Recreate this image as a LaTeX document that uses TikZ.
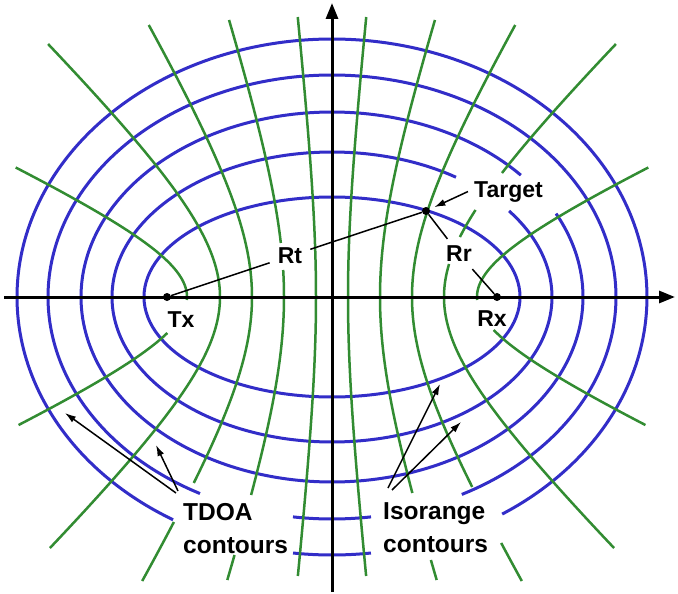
\documentclass[tikz,border=0pt]{standalone}
\usepackage{fontspec}
\setmainfont{Liberation Sans}
\usetikzlibrary{arrows.meta}
\definecolor{ellblue}{RGB}{50,45,200}
\definecolor{hypgreen}{RGB}{50,140,50}
\newcommand\ellarc[4]{\draw[ell] plot[domain=#3:#4,samples=150,smooth] ({332+#1*cos(\x)},{297-#2*sin(\x)});}
\newcommand\hyparc[5]{\draw[hyp] plot[domain=#4:#5,samples=80,smooth,variable=\u] ({332+(#1)*#2*sqrt(1+(\u/#3)^2)},{297-\u});}
\begin{document}
\begin{tikzpicture}[x=1pt,y=-1pt,
  ell/.style={draw=ellblue,line width=3pt},
  hyp/.style={draw=hypgreen,line width=2.5pt},
  axisline/.style={draw=black,line width=3pt,-{Triangle[length=16pt,width=12pt]}},
  conn/.style={draw=black,line width=1.5pt},
  ptr/.style={draw=black,line width=1.5pt,-{Latex[length=11pt,width=7pt]}},
  lbl/.style={font=\bfseries\fontsize{23}{27}\selectfont,inner sep=0pt},
  seglbl/.style={font=\bfseries\fontsize{23}{27}\selectfont,inner xsep=8pt,inner ysep=7pt},
  big/.style={font=\bfseries\fontsize{24.5}{33}\selectfont,align=left,inner sep=0pt},
  dot/.style={circle,fill=black,inner sep=0pt,minimum size=8pt}
]
\useasboundingbox (0,0) rectangle (678,594);
\fill[white] (0,0) rectangle (678,594);
\coordinate (O) at (332,297);
% isorange ellipses
\draw[ell] (O) ellipse [x radius=188, y radius=100];
\ellarc{220}{145}{55.7}{396.4}
\ellarc{251}{185}{41.2}{386.8}
\ellarc{284}{222}{297.2}{602.3}
\ellarc{284}{222}{262.1}{277.9}
\ellarc{315}{258}{302.7}{599.7}
\ellarc{315}{258}{262.9}{277.1}
% TDOA hyperbolas
\hyparc{-1}{16}{148}{-279}{280}
\hyparc{1}{16}{148}{-279}{280}
\hyparc{-1}{48}{146}{-283}{-258}
\hyparc{-1}{48}{146}{-198}{27}
\hyparc{-1}{48}{146}{54}{277}
\hyparc{1}{48}{146}{-283}{-263}
\hyparc{1}{48}{146}{-196}{277}
\hyparc{-1}{80}{132}{-284}{-225}
\hyparc{-1}{80}{132}{-186}{272}
\hyparc{1}{80}{132}{-284}{-246}
\hyparc{1}{80}{132}{-190}{272}
\hyparc{-1}{112}{108.6}{-251}{253}
\hyparc{1}{112}{108.6}{-251}{33}
\hyparc{1}{112}{108.6}{60}{87}
\hyparc{1}{112}{108.6}{124}{253}
\hyparc{-1}{145}{66.8}{-128}{-36}
\hyparc{-1}{145}{66.8}{-3}{129.5}
\hyparc{1}{145}{66.8}{-128}{-33}
\hyparc{1}{145}{66.8}{-3}{129.5}
% axes
\coordinate (xl) at (4,297);
\coordinate (xr) at (675,297);
\coordinate (yb) at (332,592);
\coordinate (yt) at (332,3);
\draw[axisline] (xl) -- (xr);
\draw[axisline] (yb) -- (yt);
% points
\node[dot] (tx) at (167,297) {};
\node[dot] (rx) at (497,297) {};
\node[dot] (target) at (426,211) {};
% labels
\node[lbl,anchor=base] (txl) at (181,327) {Tx};
\node[lbl,anchor=base] (rxl) at (492,326) {Rx};
\node[seglbl,anchor=center] (rt) at (290,256) {Rt};
\node[seglbl,anchor=center] (rr) at (459,254) {Rr};
\node[lbl,anchor=base west,inner sep=6pt] (tgtl) at (468,197) {Target};
\draw[conn] (tx) -- (rt);
\draw[conn] (rt) -- (target);
\draw[conn] (target) -- (rr);
\draw[conn] (rr) -- (rx);
\draw[ptr,shorten >=5pt] (tgtl.west) -- (target);
% bottom labels
\node[big,anchor=north west] (tdoa) at (183,503) {TDOA\\contours};
\node[big,anchor=north west] (iso) at (383,502) {Isorange\\contours};
\coordinate (tdt1) at (176,493);
\coordinate (tdt2) at (178,491);
\coordinate (tdh1) at (65,413);
\coordinate (tdh2) at (156,445);
\draw[ptr] (tdt1) -- (tdh1);
\draw[ptr] (tdt2) -- (tdh2);
\coordinate (ist1) at (388,488);
\coordinate (ist2) at (392,490);
\coordinate (ish1) at (440,384);
\coordinate (ish2) at (461,422);
\draw[ptr] (ist1) -- (ish1);
\draw[ptr] (ist2) -- (ish2);
\end{tikzpicture}
\end{document}
